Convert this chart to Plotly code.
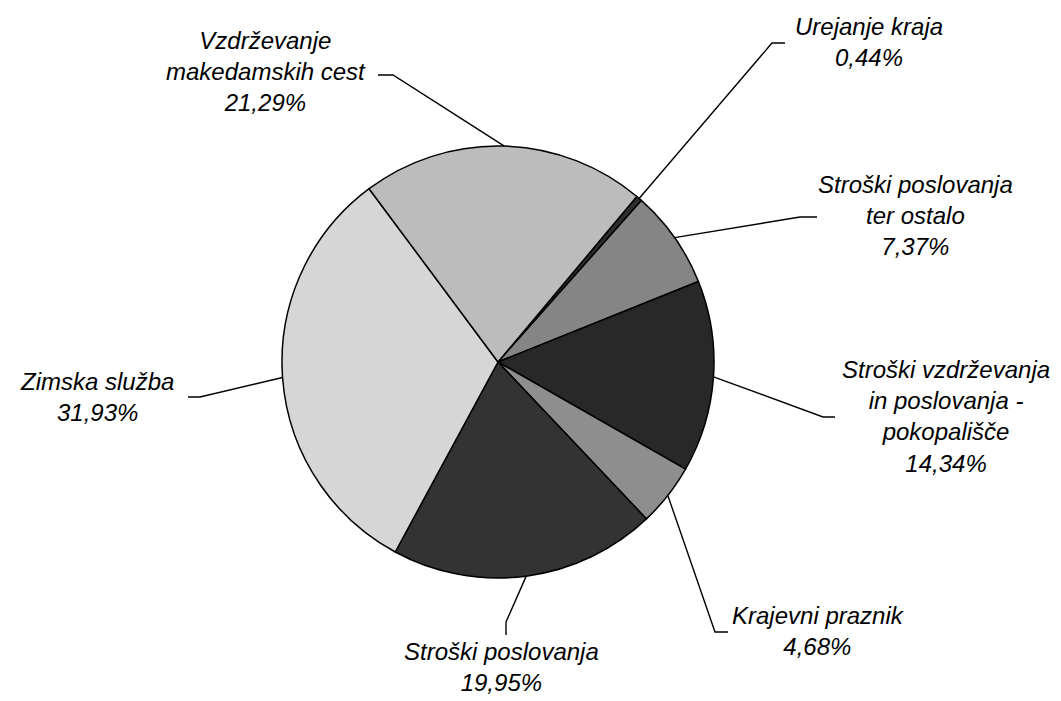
import math
import plotly.graph_objects as go

# ---- data ----
labels = [
    "Urejanje kraja",
    "Stroški poslovanja ter ostalo",
    "Stroški vzdrževanja in poslovanja - pokopališče",
    "Krajevni praznik",
    "Stroški poslovanja",
    "Zimska služba",
    "Vzdrževanje makedamskih cest",
]
label_lines = [
    ["Urejanje kraja"],
    ["Stroški poslovanja", "ter ostalo"],
    ["Stroški vzdrževanja", "in poslovanja -", "pokopališče"],
    ["Krajevni praznik"],
    ["Stroški poslovanja"],
    ["Zimska služba"],
    ["Vzdrževanje", "makedamskih cest"],
]
values = [0.44, 7.37, 14.34, 4.68, 19.95, 31.93, 21.29]
pct_text = ["0,44%", "7,37%", "14,34%", "4,68%", "19,95%", "31,93%", "21,29%"]
colors = ["#2e2e2e", "#858585", "#282828", "#8e8e8e", "#333333", "#d6d6d6", "#bcbcbc"]

# ---- layout (pixels) ----
W, H = 1061, 701
CX, CY, R = 498, 362, 216
ROTATION = 40

# label block centres and leader elbow/end points (pixel positions)
label_pos = [(869, 42), (915, 215), (946, 416), (818, 631), (501, 667), (97, 397), (266, 72)]
leader_pts = [
    [(772, 43), (785, 43)],
    [(800, 217), (817, 217)],
    [(823, 417), (835, 417)],
    [(715, 632), (728, 632)],
    [(506, 622), (506, 635)],
    [(200, 397), (188, 397)],
    [(393, 75), (378, 75)],
]


def px(x, y):
    return x / W, 1 - y / H


fig = go.Figure(
    go.Pie(
        labels=labels,
        values=values,
        sort=False,
        direction="clockwise",
        rotation=ROTATION,
        textinfo="none",
        hoverinfo="label+percent",
        marker=dict(colors=colors, line=dict(color="black", width=1.5)),
        domain=dict(x=[(CX - R) / W, (CX + R) / W], y=[(H - CY - R) / H, (H - CY + R) / H]),
        showlegend=False,
    )
)

total = sum(values)
cum = 0.0
shapes = []
annotations = []
for i, v in enumerate(values):
    mid = ROTATION + (cum + v / 2) / total * 360.0
    cum += v
    a = math.radians(mid)
    ax, ay = CX + R * math.sin(a), CY - R * math.cos(a)
    pts = [(ax, ay)] + leader_pts[i]
    path = ""
    for j, (x, y) in enumerate(pts):
        X, Y = px(x, y)
        path += ("M" if j == 0 else " L") + f" {X:.5f},{Y:.5f}"
    shapes.append(dict(type="path", path=path, xref="paper", yref="paper",
                       line=dict(color="black", width=1.4)))
    lx, ly = px(*label_pos[i])
    annotations.append(dict(
        x=lx, y=ly, xref="paper", yref="paper", xanchor="center", yanchor="middle",
        text="<br>".join(label_lines[i] + [pct_text[i]]), showarrow=False, align="center",
        font=dict(family="Liberation Sans, Arial, sans-serif", size=24, color="black", style="italic"),
    ))

fig.update_layout(
    width=W, height=H,
    margin=dict(l=0, r=0, t=0, b=0),
    paper_bgcolor="white", plot_bgcolor="white",
    shapes=shapes, annotations=annotations,
)

fig.write_html("out.html", config={"displayModeBar": False})

# remove the default page margin so the figure fills the window exactly
with open("out.html", encoding="utf-8") as f:
    html = f.read()
html = html.replace("<head>", "<head><style>html,body{margin:0;padding:0;overflow:hidden;}</style>", 1)
with open("out.html", "w", encoding="utf-8") as f:
    f.write(html)
